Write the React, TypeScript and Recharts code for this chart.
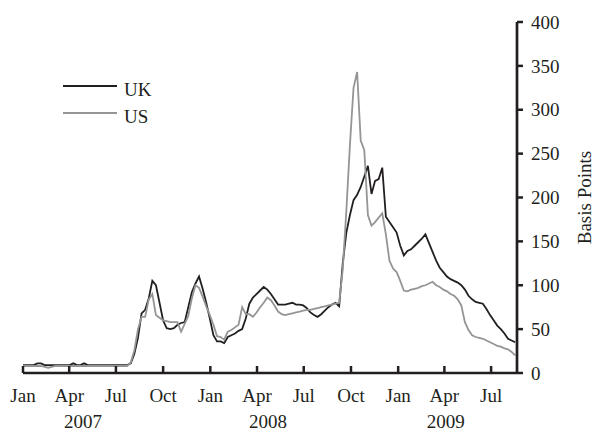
import { LineChart, Line, XAxis, YAxis, Legend } from 'recharts';

// Weekly spreads (basis points), first week of Jan 2007 onward.
const ukSpread = [
  9, 9, 9, 9, 11, 11, 9, 9, 9, 9,
  9, 9, 9, 9, 11, 9, 9, 11, 9, 9,
  9, 9, 9, 9, 9, 9, 9, 9, 9, 9,
  11, 22, 40, 68, 72, 85, 105, 100, 80, 60,
  51, 50, 51, 55, 57, 58, 75, 92, 102, 110,
  96, 80, 62, 43, 36, 36, 34, 41, 43, 45,
  48, 50, 62, 79, 86, 90, 94, 98, 95, 90,
  84, 78, 78, 78, 79, 80, 78, 78, 77, 74,
  69, 66, 64, 67, 71, 75, 78, 80, 76, 125,
  160, 180, 197, 203, 212, 224, 236, 204, 219, 221,
  234, 178, 172, 166, 160, 145, 134, 139, 141, 145,
  149, 153, 158, 148, 138, 128, 120, 115, 110, 107,
  105, 103, 100, 95, 88, 84, 81, 80, 79, 73,
  66, 60, 54, 50, 45, 39, 37, 35,
];

const usSpread = [
  8, 8, 8, 8, 8, 8, 7, 6, 7, 8,
  8, 8, 8, 8, 8, 8, 8, 8, 8, 8,
  8, 8, 8, 8, 8, 8, 8, 8, 8, 8,
  12, 26, 50, 64, 64, 84, 90, 66, 63, 60,
  59, 58, 58, 58, 47, 56, 65, 85, 100, 97,
  87, 76, 66, 55, 42, 41, 38, 47, 49, 52,
  55, 75, 67, 67, 64, 69, 75, 80, 86, 83,
  77, 70, 67, 66, 67, 68, 69, 70, 71, 72,
  72, 73, 74, 75, 76, 77, 78, 79, 80, 118,
  185, 260, 325, 343, 265, 254, 180, 168, 172, 177,
  182, 158, 128, 119, 115, 105, 94, 93, 95, 96,
  97, 99, 100, 102, 104, 100, 98, 95, 93, 90,
  88, 84, 77, 58, 49, 43, 41, 40, 39, 37,
  35, 33, 31, 30, 28, 27, 24, 20,
];

// x positions are week numbers counted from 1 Jan 2007
const weekIndex = ukSpread.map((_, i) => i);

const quarterTicks = [0, 12.86, 25.86, 39, 52.14, 65.14, 78.14, 91.29, 104.43, 117.29, 130.29];
const quarterLabels = ['Jan', 'Apr', 'Jul', 'Oct', 'Jan', 'Apr', 'Jul', 'Oct', 'Jan', 'Apr', 'Jul'];
const yearTicks = [16.7, 68.2, 117.7];
const yearLabels = ['2007', '2008', '2009'];
const yTicks = [0, 50, 100, 150, 200, 250, 300, 350, 400];

const data = weekIndex.map((w, i) => ({ w, uk: ukSpread[i], us: usSpread[i] }));

const INK = '#231f20';
const GREY = '#959595';
const FONT = '"Liberation Serif", "Times New Roman", serif';
const X_DOMAIN: [number, number] = [0, 137.5];

function QuarterTick({ x, y, index }: any) {
  return (
    <g>
      <line x1={x} x2={x} y1={y} y2={y - 7} stroke={INK} strokeWidth={2.5} />
      <text x={x} y={y + 29} textAnchor="middle" fontSize={19} fontFamily={FONT} fill={INK}>
        {quarterLabels[index]}
      </text>
    </g>
  );
}

function YearTick({ x, y, index }: any) {
  return (
    <text x={x} y={y + 25} textAnchor="middle" fontSize={19} fontFamily={FONT} fill={INK}>
      {yearLabels[index]}
    </text>
  );
}

function AxisTitle({ viewBox }: any) {
  const cx = viewBox.x + viewBox.width - 10;
  const cy = viewBox.y + viewBox.height / 2;
  return (
    <text
      x={cx}
      y={cy}
      transform={`rotate(-90 ${cx} ${cy})`}
      textAnchor="middle"
      dominantBaseline="central"
      fontSize={19}
      fontFamily={FONT}
      fill={INK}
    >
      Basis Points
    </text>
  );
}

function LegendBox({ payload }: any) {
  return (
    <svg width={110} height={56} style={{ display: 'block' }}>
      {(payload || []).map((item: any, i: number) => (
        <g key={item.value}>
          <line x1={3} x2={57} y1={11 + 27 * i} y2={11 + 27 * i} stroke={item.color} strokeWidth={2} />
          <text x={64} y={21 + 27 * i} fontSize={19} fontFamily={FONT} fill={INK}>
            {item.value}
          </text>
        </g>
      ))}
    </svg>
  );
}

export default function App() {
  return (
    <div style={{ width: 594, height: 432 }}>
      <style>{'body{margin:0}'}</style>
      <LineChart width={594} height={432} data={data} margin={{ top: 22, right: 0, bottom: 0, left: 23 }}>
        <XAxis
          type="number"
          dataKey="w"
          domain={X_DOMAIN}
          ticks={quarterTicks}
          interval={0}
          height={30}
          tickSize={0}
          tickMargin={0}
          tickLine={false}
          axisLine={{ stroke: INK, strokeWidth: 2.7 }}
          tick={<QuarterTick />}
        />
        <XAxis
          xAxisId="year"
          type="number"
          dataKey="w"
          domain={X_DOMAIN}
          ticks={yearTicks}
          interval={0}
          height={29}
          tickSize={0}
          tickMargin={0}
          tickLine={false}
          axisLine={false}
          tick={<YearTick />}
        />
        <YAxis
          orientation="right"
          width={77}
          domain={[0, 400]}
          ticks={yTicks}
          interval={0}
          tickSize={6}
          tickMargin={8}
          axisLine={{ stroke: INK, strokeWidth: 2.7 }}
          tickLine={{ stroke: INK, strokeWidth: 2.5 }}
          tick={{ fontSize: 19, fontFamily: FONT, fill: INK }}
          label={{ content: AxisTitle }}
        />
        <Legend
          layout="vertical"
          align="center"
          verticalAlign="middle"
          content={LegendBox}
          wrapperStyle={{ left: 60, top: 75, width: 110 }}
        />
        <Line
          type="linear"
          dataKey="uk"
          name="UK"
          stroke={INK}
          strokeWidth={1.8}
          dot={false}
          isAnimationActive={false}
        />
        <Line
          type="linear"
          dataKey="us"
          name="US"
          stroke={GREY}
          strokeWidth={1.8}
          dot={false}
          isAnimationActive={false}
        />
      </LineChart>
    </div>
  );
}
